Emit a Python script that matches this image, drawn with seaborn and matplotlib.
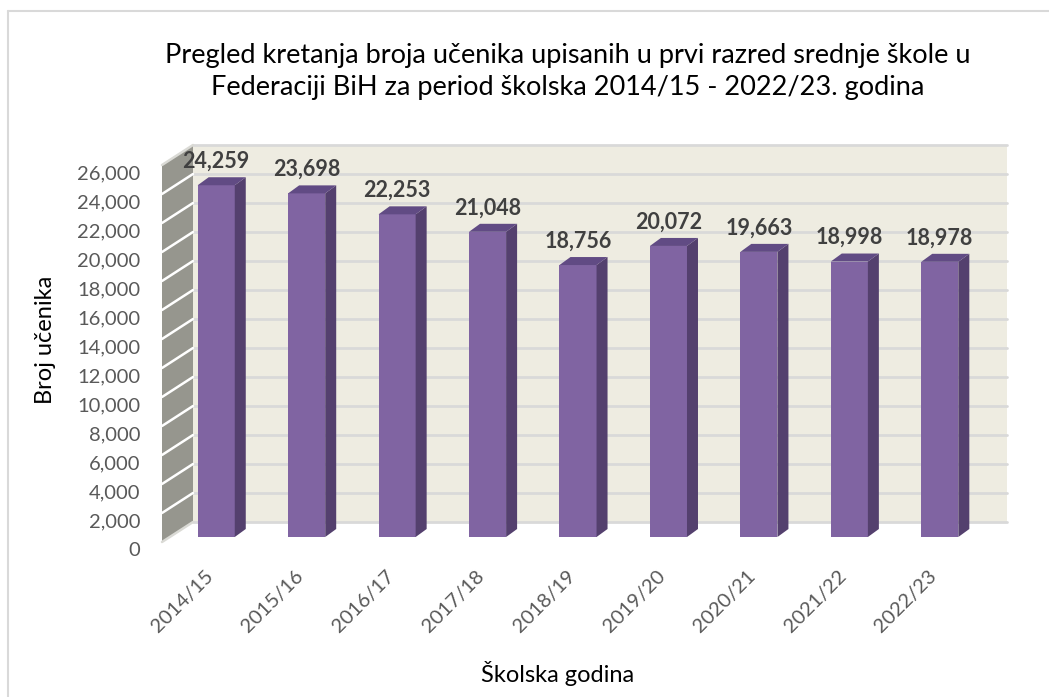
import numpy as np
import pandas as pd
import matplotlib
matplotlib.use('Agg')
import matplotlib.pyplot as plt
import seaborn as sns
from matplotlib.patches import Polygon, Rectangle
from matplotlib.lines import Line2D
from matplotlib.transforms import ScaledTranslation

years = ['2014/15', '2015/16', '2016/17', '2017/18', '2018/19',
         '2019/20', '2020/21', '2021/22', '2022/23']
students = [24259, 23698, 22253, 21048, 18756, 20072, 19663, 18998, 18978]
yticks = np.arange(0, 26001, 2000)

title = ('Pregled kretanja broja učenika upisanih u prvi razred srednje škole u\n'
         'Federaciji BiH za period školska 2014/15 - 2022/23. godina')

sns.set_style('white')
plt.rcParams['font.family'] = ['Lato', 'DejaVu Sans']

W, H = 1049, 697
fig = plt.figure(figsize=(W / 100, H / 100), dpi=100)
ax = fig.add_axes([171 / W, (H - 537) / H, 814 / W, 377 / H])
ax.patch.set_visible(False)

df = pd.DataFrame({'godina': years, 'ucenici': students})
sns.barplot(data=df, x='godina', y='ucenici', color='#8064A2', saturation=1,
            width=0.41, ax=ax, zorder=3, edgecolor='none')
ax.set_xlim(-0.5, 8.5)
ax.set_ylim(0, 26000)

# pixel -> data offsets for the fake 3d depth
sx = 814 / 9
sy = 377 / 26000
def off(px, py):
    return px / sx, py / sy

bx, by = off(22, 15)     # back wall
fx, fy = off(-9, -5)     # front edge of side wall
dx, dy = off(11, 8)      # bar depth

# back wall + gridlines
ax.add_patch(Rectangle((-0.5 + bx, by), 9, 26000, facecolor='#EEECE1',
                       edgecolor='none', zorder=0, clip_on=False))
for t in yticks:
    ax.plot([-0.5 + bx, 8.5 + bx], [t + by, t + by], color='#D9D9D9', lw=2,
            zorder=1, clip_on=False)

# left side wall
ax.add_patch(Polygon([(-0.5 + fx, fy), (-0.5 + fx, 26000 + fy),
                      (-0.5 + bx, 26000 + by), (-0.5 + bx, by)],
                     closed=True, facecolor='#96968E', edgecolor='none',
                     zorder=1, clip_on=False))
for t in yticks:
    c = '#DADAD5' if t in (0, 26000) else 'white'
    ax.plot([-0.5 + fx, -0.5 + bx], [t + fy, t + by], color=c, lw=1.8,
            zorder=2, clip_on=False)

# side and top faces of the bars
for p in ax.patches[:]:
    if not isinstance(p, Rectangle) or p.get_zorder() != 3:
        continue
    x0, w, h = p.get_x(), p.get_width(), p.get_height()
    ax.add_patch(Polygon([(x0 + w, 0), (x0 + w, h), (x0 + w + dx, h + dy),
                          (x0 + w + dx, dy)], closed=True,
                         facecolor='#54406E', edgecolor='none', zorder=3))
    ax.add_patch(Polygon([(x0, h), (x0 + w, h), (x0 + w + dx, h + dy),
                          (x0 + dx, h + dy)], closed=True,
                         facecolor='#614B84', edgecolor='none', zorder=3))

for i, v in enumerate(students):
    ax.annotate(f'{v:,}', (i, v), xytext=(0, 24), textcoords='offset pixels',
                ha='center', va='center', fontsize=15.5, fontweight='bold',
                color='#404040', zorder=5)

sns.despine(ax=ax, left=True, bottom=True, top=True, right=True)
ax.set_yticks(yticks, labels=[f'{t:,}' for t in yticks])
ax.tick_params(axis='y', length=0, pad=22, labelsize=14.5, labelcolor='#595959')
for lab in ax.get_yticklabels():
    lab.set_transform(lab.get_transform() +
                      ScaledTranslation(0, -9 / 72, fig.dpi_scale_trans))
ax.set_xticks(range(len(years)))
ax.set_xticklabels(years, rotation=45, ha='right', va='center',
                   rotation_mode='anchor')
ax.tick_params(axis='x', length=0, pad=26, labelsize=14.5, labelcolor='#595959')
for lab in ax.get_xticklabels():
    lab.set_transform(lab.get_transform() +
                      ScaledTranslation(-6 / 100, 0, fig.dpi_scale_trans))
ax.set_xlabel('')
ax.set_ylabel('')

fig.text(45 / W, 1 - 340 / H, 'Broj učenika', rotation=90, ha='center',
         va='center', fontsize=17, color='#000000')
fig.text(558 / W, 1 - 673 / H, 'Školska godina', ha='center', va='center',
         fontsize=17, color='#000000')
fig.text(568 / W, 1 - 71 / H, title, ha='center', va='center', fontsize=19.5,
         linespacing=1.35, color='#000000')

# chart border (only top and left visible)
fig.add_artist(Line2D([8 / W, 1], [1 - 11 / H, 1 - 11 / H], color='#D9D9D9',
                      lw=1.5, transform=fig.transFigure))
fig.add_artist(Line2D([8 / W, 8 / W], [0, 1 - 11 / H], color='#D9D9D9',
                      lw=1.5, transform=fig.transFigure))

fig.savefig('out.png', dpi=100)
